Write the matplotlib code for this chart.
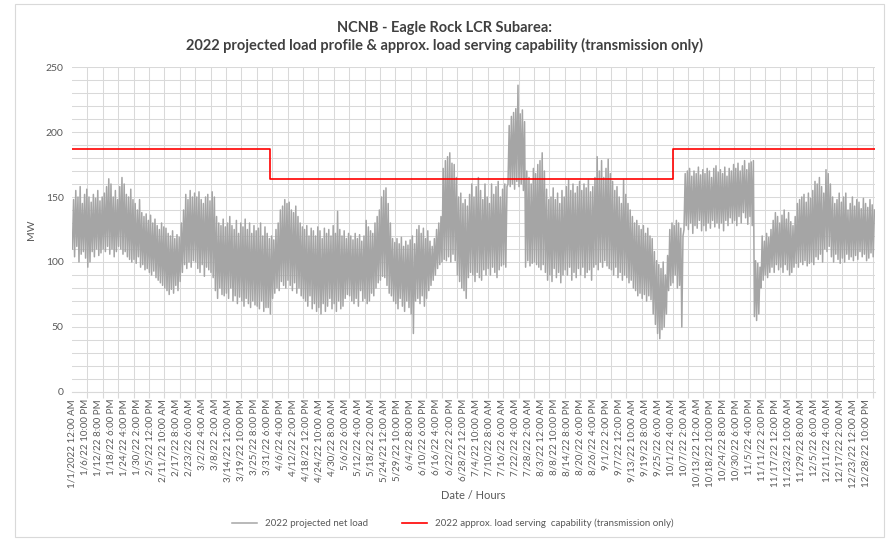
import numpy as np
import matplotlib
matplotlib.use("Agg")
import matplotlib.pyplot as plt
from matplotlib.patches import Rectangle

plt.rcParams["font.family"] = ["Lato", "DejaVu Sans"]

# daily low / high of the 2022 projected net load (MW), one row per week
daily_high = [
    148, 155, 150, 158, 145, 152, 156,
    150, 146, 152, 149, 155, 147, 150,
    153, 158, 164, 160, 150, 155, 148,
    158, 165, 160, 152, 150, 156, 148,
    145, 140, 148, 138, 135, 137, 132,
    136, 130, 133, 128, 125, 130, 127,
    126, 122, 120, 124, 118, 121, 119,
    130, 140, 152, 148, 155, 150, 153,
    150, 154, 148, 145, 150, 152, 147,
    154, 150, 135, 130, 128, 133, 127,
    130, 135, 128, 125, 132, 122, 130,
    127, 133, 125, 130, 122, 128, 124,
    126, 130, 120, 127, 122, 118, 120,
    117, 125, 130, 140, 143, 148, 145,
    146, 140, 138, 143, 135, 130, 127,
    125, 128, 120, 126, 124, 120, 127,
    124, 118, 126, 122, 125, 120, 128,
    122, 139, 125, 120, 124, 118, 122,
    120, 117, 122, 118, 121, 116, 120,
    132, 127, 124, 122, 130, 135, 140,
    150, 155, 157, 145, 130, 118, 115,
    118, 114, 119, 112, 116, 113, 117,
    120, 114, 125, 128, 122, 126, 118,
    124, 116, 112, 118, 125, 130, 135,
    172, 178, 181, 184, 176, 175, 165,
    150, 153, 145, 148, 143, 152, 160,
    150, 158, 165, 155, 148, 160, 150,
    145, 160, 152, 158, 162, 150, 156,
    160, 158, 205, 212, 215, 218, 236,
    214, 217, 208, 170, 165, 160, 172,
    168, 175, 178, 184, 170, 156, 148,
    150, 157, 148, 153, 145, 155, 150,
    158, 163, 155, 160, 153, 158, 162,
    155, 160, 157, 163, 154, 158, 165,
    181, 170, 178, 165, 172, 179, 168,
    162, 155, 158, 150, 145, 163, 152,
    145, 140, 135, 130, 132, 128, 125,
    128, 122, 126, 120, 118, 108, 101,
    98, 95, 100, 90, 105, 125, 130,
    128, 132, 130, 126, 120, 168, 170,
    172, 166, 170, 168, 173, 167, 171,
    168, 172, 170, 165, 172, 174, 169,
    171, 168, 173, 166, 172, 170, 175,
    172, 176, 170, 174, 178, 171, 176,
    177, 178, 101, 99, 96, 120, 116,
    122, 119, 125, 132, 138, 135, 130,
    136, 140, 133, 138, 131, 128, 135,
    145, 148, 150, 152, 146, 153, 149,
    155, 162, 160, 165, 158, 153, 171,
    168, 160, 150, 145, 148, 153, 146,
    150, 153, 140, 145, 150, 143, 148,
    146, 141, 149, 145, 142, 148, 144,
    140,
]
daily_low = [
    110, 104, 112, 100, 106, 108, 103,
    96, 100, 108, 104, 110, 105, 107,
    110, 108, 112, 106, 110, 104, 108,
    112, 110, 106, 108, 104, 102, 100,
    102, 99, 104, 96, 98, 94, 95,
    92, 90, 93, 88, 86, 84, 82,
    80, 78, 75, 79, 76, 82, 78,
    85, 92, 98, 95, 100, 96, 101,
    100, 95, 92, 98, 89, 96, 94,
    92, 88, 78, 72, 80, 75, 74,
    76, 72, 80, 70, 74, 68, 73,
    70, 66, 72, 68, 65, 70, 67,
    66, 64, 70, 62, 65, 65, 60,
    72, 76, 80, 78, 85, 82, 80,
    86, 82, 78, 84, 76, 80, 74,
    72, 70, 66, 74, 64, 68, 62,
    65, 60, 68, 62, 66, 72, 64,
    68, 62, 70, 64, 66, 72, 75,
    74, 70, 68, 72, 66, 78, 70,
    72, 68, 70, 76, 74, 80, 84,
    86, 89, 88, 82, 76, 74, 70,
    68, 64, 72, 66, 62, 70, 65,
    60, 45, 70, 72, 68, 74, 66,
    72, 78, 82, 86, 90, 95, 98,
    100, 102, 101, 104, 100, 106, 101,
    90, 85, 80, 78, 72, 88, 92,
    90, 85, 92, 88, 86, 94, 90,
    95, 90, 96, 92, 88, 94, 97,
    98, 96, 160, 158, 160, 156, 162,
    158, 160, 155, 96, 101, 97, 99,
    100, 98, 96, 94, 98, 92, 86,
    90, 85, 95, 88, 92, 84, 90,
    94, 90, 96, 86, 92, 88, 95,
    90, 96, 88, 92, 94, 86, 96,
    98, 94, 100, 96, 101, 97, 95,
    94, 90, 96, 88, 92, 86, 90,
    88, 84, 86, 80, 78, 74, 76,
    72, 75, 70, 74, 71, 60, 52,
    45, 41, 48, 50, 60, 78, 82,
    84, 90, 80, 82, 50, 125, 128,
    125, 130, 122, 128, 126, 132, 124,
    128, 124, 130, 126, 132, 127, 130,
    126, 130, 124, 132, 128, 134, 130,
    132, 128, 135, 130, 138, 134, 129,
    135, 128, 58, 55, 60, 80, 86,
    90, 88, 92, 96, 92, 98, 94,
    96, 92, 98, 94, 90, 92, 96,
    99, 96, 100, 98, 101, 97, 99,
    100, 98, 104, 102, 106, 100, 110,
    108, 112, 104, 100, 106, 102, 99,
    103, 100, 106, 102, 104, 101, 105,
    102, 108, 104, 106, 101, 103, 107,
    104,
]

# transmission-only load serving capability: hour of change -> MW
cap_start_hour = [0, 2160, 6552]
cap_mw = [187, 164, 187]
hours_in_year = 8760

tick_labels = [
    "1/1/2022 12:00 AM", "1/6/22 10:00 PM", "1/12/22 8:00 PM", "1/18/22 6:00 PM",
    "1/24/22 4:00 PM", "1/30/22 2:00 PM", "2/5/22 12:00 PM", "2/11/22 10:00 AM",
    "2/17/22 8:00 AM", "2/23/22 6:00 AM", "3/2/22 4:00 AM", "3/8/22 2:00 AM",
    "3/14/22 12:00 AM", "3/19/22 10:00 PM", "3/25/22 8:00 PM", "3/31/22 6:00 PM",
    "4/6/22 4:00 PM", "4/12/22 2:00 PM", "4/18/22 12:00 PM", "4/24/22 10:00 AM",
    "4/30/22 8:00 AM", "5/6/22 6:00 AM", "5/12/22 4:00 AM", "5/18/22 2:00 AM",
    "5/24/22 12:00 AM", "5/29/22 10:00 PM", "6/4/22 8:00 PM", "6/10/22 6:00 PM",
    "6/16/22 4:00 PM", "6/22/22 2:00 PM", "6/28/22 12:00 PM", "7/4/22 10:00 AM",
    "7/10/22 8:00 AM", "7/16/22 6:00 AM", "7/22/22 4:00 AM", "7/28/22 2:00 AM",
    "8/3/22 12:00 AM", "8/8/22 10:00 PM", "8/14/22 8:00 PM", "8/20/22 6:00 PM",
    "8/26/22 4:00 PM", "9/1/22 2:00 PM", "9/7/22 12:00 PM", "9/13/22 10:00 AM",
    "9/19/22 8:00 AM", "9/25/22 6:00 AM", "10/1/22 4:00 AM", "10/7/22 2:00 AM",
    "10/13/22 12:00 AM", "10/18/22 10:00 PM", "10/24/22 8:00 PM", "10/30/22 6:00 PM",
    "11/5/22 4:00 PM", "11/11/22 2:00 PM", "11/17/22 12:00 PM", "11/23/22 10:00 AM",
    "11/29/22 8:00 AM", "12/5/22 6:00 AM", "12/11/22 4:00 AM", "12/17/22 2:00 AM",
    "12/23/22 12:00 AM", "12/28/22 10:00 PM",
]
label_step_hours = 142

TXT = "#595959"
GRID = "#d9d9d9"

# hourly positions: daily low around 4 AM, daily high around 5 PM
days = np.arange(len(daily_high))
x = np.empty(2 * len(days))
y = np.empty(2 * len(days))
x[0::2] = days * 24 + 4
x[1::2] = days * 24 + 17
y[0::2] = daily_low
y[1::2] = daily_high

fig = plt.figure(figsize=(8.88, 5.4), dpi=100)
ax = fig.add_axes([0.0811, 0.2741, 0.9043, 0.6018])

ax.plot(x, y, color="#a5a5a5", lw=1.1, label="2022 projected net load", zorder=3)
cap_x = cap_start_hour + [hours_in_year]
cap_y = cap_mw + [cap_mw[-1]]
ax.step(cap_x, cap_y, where="post", color="#ff0000", lw=1.2,
        label="2022 approx. load serving  capability (transmission only)", zorder=4)

ax.set_xlim(0, hours_in_year)
ax.set_ylim(0, 250)
ax.set_yticks(np.arange(0, 251, 50))
ax.set_yticks(np.arange(0, 251, 10), minor=True)
ax.set_xticks(np.arange(len(tick_labels)) * label_step_hours)
ax.set_xticklabels(tick_labels, rotation=90, fontsize=7, color=TXT)
ax.set_xticks(np.arange(0, hours_in_year, 168), minor=True)
ax.tick_params(axis="x", which="major", length=0, pad=5)
ax.tick_params(axis="x", which="minor", length=4, color=GRID, width=0.8)
ax.tick_params(axis="y", which="both", length=0, labelsize=7.5, labelcolor=TXT, pad=6)
ax.grid(True, which="both", color=GRID, lw=0.75, zorder=0)
ax.grid(False, axis="x", which="major")
for s in ["top", "right", "left"]:
    ax.spines[s].set_visible(False)
ax.spines["bottom"].set_color(GRID)
ax.set_axisbelow(True)

ax.set_ylabel("MW", fontsize=7.5, color=TXT, labelpad=7)
ax.set_xlabel("Date / Hours", fontsize=8, color=TXT, labelpad=2)

fig.text(0.5, 0.948, "NCNB - Eagle Rock LCR Subarea:", ha="center", va="center",
         fontsize=10.5, fontweight="bold", color="#404040")
fig.text(0.5, 0.916, "2022 projected load profile & approx. load serving capability (transmission only)",
         ha="center", va="center", fontsize=10.5, fontweight="bold", color="#404040")

fig.legend(loc="center", bbox_to_anchor=(0.51, 0.031), ncol=2, frameon=False,
           fontsize=7, labelcolor=TXT, handlelength=2.6, columnspacing=3.5)

fig.patches.append(Rectangle((15 / 888, 3 / 540), 869 / 888, 533 / 540, transform=fig.transFigure,
                             fill=False, edgecolor=GRID, lw=0.8))

fig.savefig("out.png", dpi=100, facecolor="white")
